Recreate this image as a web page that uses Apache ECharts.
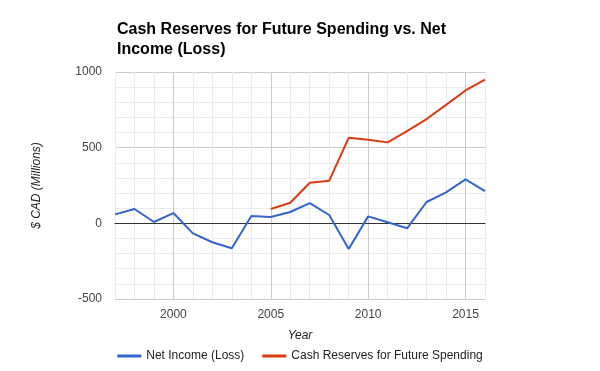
<!DOCTYPE html>
<html><head><meta charset="utf-8">
<script src="https://cdn.jsdelivr.net/npm/echarts@6/dist/echarts.min.js"></script>
<style>html,body{margin:0;padding:0;background:#fff}#c{width:600px;height:371px}</style>
</head><body><div id="c"></div>
<script>
const years = [1997,1998,1999,2000,2001,2002,2003,2004,2005,2006,2007,2008,2009,2010,2011,2012,2013,2014,2015,2016];
const netIncome = [59,95,9,68,-66,-125,-165,48,42,75,134,55,-169,46,7,-33,141,205,290,213];
const reserveYears = [2005,2006,2007,2008,2009,2010,2011,2012,2013,2014,2015,2016];
const cashReserves = [95,136,268,282,565,552,535,609,689,783,878,950];
const xTickLabels = [2000,2005,2010,2015];
const yTickLabels = [-500,0,500,1000];

const FONT = 'Arial, "Liberation Sans", sans-serif';
const MAJOR = '#cccccc', MINOR = '#ebebeb';
const chart = echarts.init(document.getElementById('c'), null, {renderer:'canvas'});
chart.setOption({
  animation:false,
  title:{text:'Cash Reserves for Future Spending vs. Net\nIncome (Loss)', left:112, top:15,
    textStyle:{fontFamily:FONT, fontSize:16, fontWeight:'bold', color:'#000', lineHeight:20}},
  legend:{bottom:4, left:'center', itemWidth:24, itemHeight:3, icon:'rect', itemGap:18,
    textStyle:{fontFamily:FONT, fontSize:12, color:'#222'},
    data:['Net Income (Loss)','Cash Reserves for Future Spending']},
  grid:{left:115, right:115, top:72, bottom:72},
  xAxis:{type:'value', min:1997, max:2016, interval:1,
    name:'Year', nameLocation:'middle', nameGap:31,
    nameTextStyle:{fontFamily:FONT, fontSize:12, fontStyle:'italic', color:'#222'},
    axisLine:{show:true, onZero:true, lineStyle:{color:'#333', width:1}},
    axisTick:{show:false},
    axisLabel:{fontFamily:FONT, fontSize:12, color:'#444', margin:10,
      formatter:v => xTickLabels.indexOf(v) >= 0 ? String(v) : ''},
    splitLine:{show:true, lineStyle:{color:[MINOR,MINOR,MINOR,MAJOR,MINOR], width:1}}},
  yAxis:{type:'value', min:-500, max:1000, interval:100,
    name:'$ CAD (Millions)', nameLocation:'middle', nameGap:72,
    nameTextStyle:{fontFamily:FONT, fontSize:12, fontStyle:'italic', color:'#222'},
    axisLine:{show:false}, axisTick:{show:false},
    axisLabel:{fontFamily:FONT, fontSize:12, color:'#444', margin:13,
      formatter:v => yTickLabels.indexOf(v) >= 0 ? String(v) : ''},
    splitLine:{show:true, lineStyle:{color:[MAJOR,MINOR,MINOR,MINOR,MINOR], width:1}}},
  series:[
    {name:'Net Income (Loss)', type:'line', color:'#3366cc', symbol:'none',
      lineStyle:{width:2}, data:years.map((y,i)=>[y,netIncome[i]])},
    {name:'Cash Reserves for Future Spending', type:'line', color:'#dc3912', symbol:'none',
      lineStyle:{width:2}, data:reserveYears.map((y,i)=>[y,cashReserves[i]])}
  ]
});
</script></body></html>
